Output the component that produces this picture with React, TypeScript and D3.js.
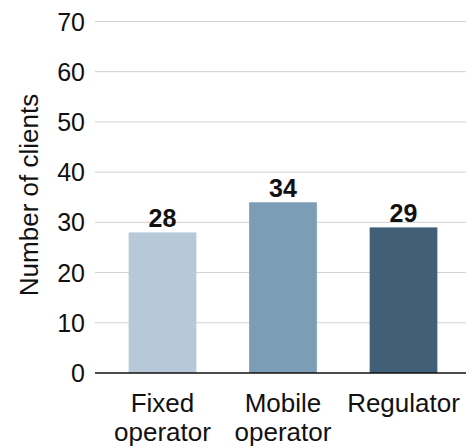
import React from "react";
import * as d3 from "d3";

const categories: string[][] = [["Fixed", "operator"], ["Mobile", "operator"], ["Regulator"]];
const clients: number[] = [28, 34, 29];
const barColors: string[] = ["#b7c9d8", "#7b9db6", "#415f76"];
const yTicks: number[] = [0, 10, 20, 30, 40, 50, 60, 70];
const yTitle = "Number of clients";

const W = 466;
const H = 448;
const font = "'Liberation Sans', Arial, sans-serif";

export default function App() {
  const x = d3
    .scaleBand<number>()
    .domain(clients.map((_, i) => i))
    .range([100, 466])
    .paddingInner(0.438)
    .paddingOuter(0.2376);
  const y = d3.scaleLinear().domain([0, 70]).range([373, 21.5]);
  const gridLeft = 95;
  const gridRight = 466;

  return (
    <svg
      width={W}
      height={H}
      style={{ position: "absolute", left: 0, top: 0, background: "#fff" }}
      fontFamily={font}
    >
      {yTicks.map((t) => (
        <g key={t}>
          {t > 0 && (
            <line x1={gridLeft} x2={gridRight} y1={y(t)} y2={y(t)} stroke="#d0d0d0" strokeWidth={1} />
          )}
          <text x={85} y={y(t)} dy="0.36em" textAnchor="end" fontSize={25} fill="#111">
            {t}
          </text>
        </g>
      ))}
      {clients.map((v, i) => (
        <g key={i}>
          <rect x={x(i)} y={y(v)} width={x.bandwidth()} height={y(0) - y(v)} fill={barColors[i]} />
          <text
            x={(x(i) as number) + x.bandwidth() / 2}
            y={y(v) - 5}
            textAnchor="middle"
            fontSize={25}
            fontWeight="bold"
            fill="#111"
          >
            {v}
          </text>
          {categories[i].map((line, j) => (
            <text
              key={j}
              x={(x(i) as number) + x.bandwidth() / 2}
              y={412 + j * 29}
              textAnchor="middle"
              fontSize={26}
              fill="#111"
            >
              {line}
            </text>
          ))}
        </g>
      ))}
      <line x1={gridLeft} x2={gridRight} y1={y(0)} y2={y(0)} stroke="#111" strokeWidth={1.5} />
      <text
        transform="translate(38, 195) rotate(-90)"
        textAnchor="middle"
        fontSize={26}
        fill="#111"
      >
        {yTitle}
      </text>
    </svg>
  );
}
